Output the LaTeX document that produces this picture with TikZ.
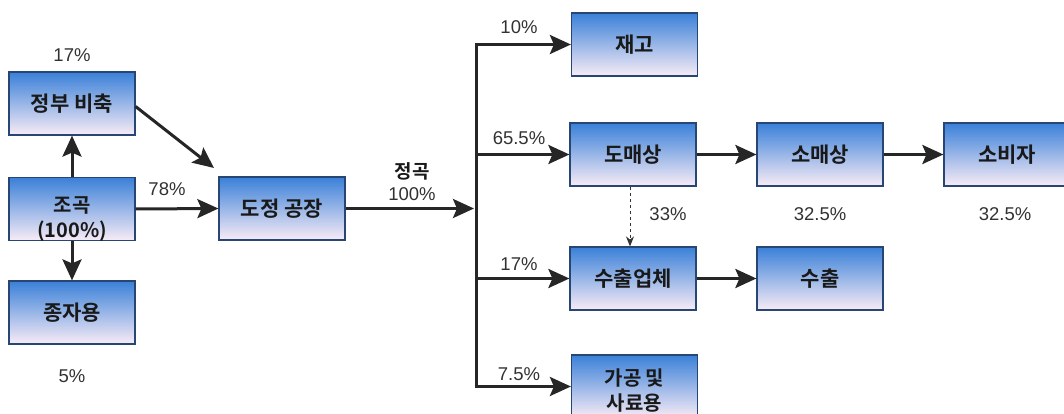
\documentclass[tikz,border=0pt]{standalone}
\usepackage{fontspec}
\setmainfont{Liberation Sans}
\newfontfamily\kr{Noto Sans CJK KR}[BoldFont={* Bold}]
\usetikzlibrary{arrows.meta}
\definecolor{boxtop}{RGB}{58,128,216}
\definecolor{boxbot}{RGB}{248,236,246}
\definecolor{boxline}{RGB}{40,70,115}
\definecolor{pct}{RGB}{50,50,50}
\begin{document}
\begin{tikzpicture}[x=1pt,y=-1pt,
  flowbox/.style={draw=boxline,line width=1.2pt,top color=boxtop,bottom color=boxbot,
    minimum width=126pt,minimum height=63pt,inner sep=0pt,align=center,
    font=\kr\bfseries\fontsize{21}{24}\selectfont,text=black!90},
  boxtext/.style={inner sep=0pt,align=center,
    font=\kr\bfseries\fontsize{20}{25}\selectfont,text=black!90},
  pctlab/.style={font=\fontsize{18.5}{20}\selectfont,text=pct,inner sep=0pt},
  flow/.style={line width=3pt,draw=black!85,-{Stealth[length=21pt,width=19pt,inset=4pt]}},
  trunkline/.style={line width=3pt,draw=black!85}]
\useasboundingbox (0,0) rectangle (1064,414);
\clip (0,0) rectangle (1064,414);
% boxes
\node[flowbox] (bichuk) at (72,103.5) {정부 비축};
\node[flowbox] (jogok) at (72,209) {};
\node[boxtext] (jogoktxt) at (72,219) {조곡\\(100\%)};
\node[flowbox] (jongja) at (72,312.5) {종자용};
\node[flowbox] (dojeong) at (282,208.5) {도정 공장};
\node[flowbox] (jaego) at (634.5,44.5) {재고};
\node[flowbox] (domae) at (633,154.5) {도매상};
\node[flowbox] (suchulup) at (633,278.5) {수출업체};
\node[flowbox] (gagong) at (634.5,386.5) {};
\node[boxtext] (gagongtxt) at (634.5,390) {가공 및\\사료용};
\node[flowbox] (somae) at (820,154.5) {소매상};
\node[flowbox] (sobi) at (1007,154.5) {소비자};
\node[flowbox] (suchul) at (820,278.5) {수출};
% labels
\node[pctlab] (l17a) at (72,55) {17\%};
\node[pctlab] (l5) at (72,376) {5\%};
\node[pctlab] (l78) at (167,189) {78\%};
\node[font=\kr\bfseries\fontsize{19}{20}\selectfont,text=black!90,inner sep=0pt] (jeonggok) at (412,171) {정곡};
\node[pctlab] (l100) at (412,194) {100\%};
\node[pctlab] (l10) at (519,27) {10\%};
\node[pctlab] (l655) at (519,138) {65.5\%};
\node[pctlab] (l33) at (668,214) {33\%};
\node[pctlab] (l325a) at (820,214) {32.5\%};
\node[pctlab] (l325b) at (1005,214) {32.5\%};
\node[pctlab] (l17b) at (519,264) {17\%};
\node[pctlab] (l75) at (519,374) {7.5\%};
% trunk
\coordinate (ttop) at (476,44.5);
\coordinate (tin) at (476,208.5);
\coordinate (tb1) at (476,154.5);
\coordinate (tb2) at (476,278.5);
\coordinate (tbot) at (476,386.5);
\coordinate (din) at (214,168);
\draw[trunkline] (ttop) -- (tbot);
% arrows
\draw[flow] (jogok.north) -- (bichuk.south);
\draw[flow] (jogok.south) -- (jongja.north);
\draw[flow] (jogok.east) -- (dojeong.west);
\draw[flow] ([yshift=-3pt]bichuk.east) -- (din);
\draw[flow] (dojeong.east) -- ([xshift=-2pt]tin);
\draw[flow] ([xshift=-1.5pt]ttop) -- (jaego.west);
\draw[flow] (tb1) -- (domae.west);
\draw[flow] (tb2) -- (suchulup.west);
\draw[flow] ([xshift=-1.5pt]tbot) -- (gagong.west);
\draw[flow] (domae.east) -- (somae.west);
\draw[flow] (somae.east) -- (sobi.west);
\draw[flow] (suchulup.east) -- (suchul.west);
\draw[line width=0.9pt,draw=black!80,dashed,-{Stealth[length=10pt,width=8pt]}] ([xshift=-3pt]domae.south) -- ([xshift=-3pt]suchulup.north);
\end{tikzpicture}
\end{document}
